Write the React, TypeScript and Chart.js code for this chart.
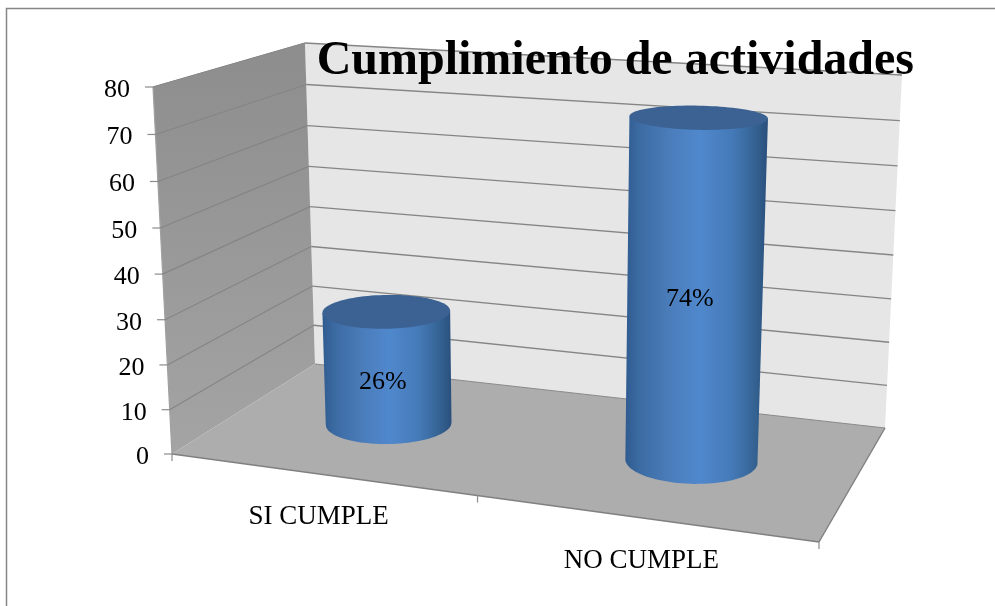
import React, { useEffect, useRef } from "react";
import { Chart, registerables } from "chart.js";

Chart.register(...registerables);

const categories = ["SI CUMPLE", "NO CUMPLE"];
const cumplimiento = [26, 74];
const valueLabels = ["26%", "74%"];
const labelHeightShare = [0.39, 0.485];
const axisMax = 80;
const axisStep = 10;
const chartTitle = "Cumplimiento de actividades";

const SERIF = "'Liberation Serif', 'Times New Roman', serif";

type Pt = [number, number];

// Corners of the 3D floor: u runs along the categories, d runs into the depth.
const floorCorners: Pt[] = [[172, 454], [819, 542], [885, 428], [315, 364]];
// Full axis height in pixels above each floor corner, same order.
const cornerHeights = [367, 410, 353, 321];
// Vanishing point of the vertical edges.
const verticalVanish: Pt = [541, 7585];
const barDepthCentre = 0.5;
const barDepthRadius = 0.2;
const heightWarp = 1.04;
const alongWarp = 0.024;

function homography(q: Pt[]) {
  const [[x0, y0], [x1, y1], [x2, y2], [x3, y3]] = q;
  const dx1 = x1 - x2, dx2 = x3 - x2, sx = x0 - x1 + x2 - x3;
  const dy1 = y1 - y2, dy2 = y3 - y2, sy = y0 - y1 + y2 - y3;
  const den = dx1 * dy2 - dx2 * dy1;
  const g = (sx * dy2 - dx2 * sy) / den;
  const h = (dx1 * sy - sx * dy1) / den;
  const a = x1 - x0 + g * x1, b = x3 - x0 + h * x3;
  const d = y1 - y0 + g * y1, e = y3 - y0 + h * y3;
  return (u: number, v: number): Pt => {
    const w = g * u + h * v + 1;
    return [(a * u + b * v + x0) / w, (d * u + e * v + y0) / w];
  };
}

const floorMap = homography(floorCorners);

function project(uRaw: number, d: number, share: number): Pt {
  const u = uRaw + alongWarp * uRaw * (1 - uRaw);
  const f = floorMap(u, d);
  const [h0, h1, h2, h3] = cornerHeights;
  const full = (1 - d) * ((1 - u) * h0 + u * h1) + d * ((1 - u) * h3 + u * h2);
  const t = share / (share + (1 - share) * heightWarp);
  const rise = full * t;
  const lean = (f[0] - verticalVanish[0]) / (verticalVanish[1] - f[1]);
  return [f[0] + lean * rise, f[1] - rise];
}

function poly(ctx: CanvasRenderingContext2D, pts: Pt[]) {
  ctx.beginPath();
  pts.forEach((p, i) => (i ? ctx.lineTo(p[0], p[1]) : ctx.moveTo(p[0], p[1])));
  ctx.closePath();
}

function seg(ctx: CanvasRenderingContext2D, a: Pt, b: Pt, color: string, width: number) {
  ctx.beginPath();
  ctx.moveTo(a[0], a[1]);
  ctx.lineTo(b[0], b[1]);
  ctx.strokeStyle = color;
  ctx.lineWidth = width;
  ctx.stroke();
}

function shareOf(chart: any, value: number) {
  const s = chart.scales.y;
  return (s.getPixelForValue(0) - s.getPixelForValue(value)) / (s.getPixelForValue(0) - s.getPixelForValue(axisMax));
}

function uOf(chart: any, x: number) {
  const a = chart.chartArea;
  return (x - a.left) / (a.right - a.left);
}

const box3d = {
  id: "box3d",
  beforeDraw(chart: any) {
    const ctx: CanvasRenderingContext2D = chart.ctx;
    ctx.save();
    ctx.fillStyle = "#ffffff";
    ctx.fillRect(0, 0, chart.width, chart.height);

    // frame of the picture
    ctx.beginPath();
    ctx.moveTo(6.5, chart.height);
    ctx.lineTo(6.5, 8.5);
    ctx.lineTo(chart.width, 8.5);
    ctx.strokeStyle = "#868686";
    ctx.lineWidth = 1.5;
    ctx.stroke();

    // back wall
    poly(ctx, [project(0, 1, 0), project(1, 1, 0), project(1, 1, 1), project(0, 1, 1)]);
    ctx.fillStyle = "#e6e6e6";
    ctx.fill();

    // side wall
    poly(ctx, [project(0, 0, 0), project(0, 1, 0), project(0, 1, 1), project(0, 0, 1)]);
    const wall = ctx.createLinearGradient(0, 60, 0, 454);
    wall.addColorStop(0, "#8e8e8e");
    wall.addColorStop(1, "#a4a4a4");
    ctx.fillStyle = wall;
    ctx.fill();
    seg(ctx, project(0, 0, 1), project(0, 1, 1), "#a0a0a0", 1);
    seg(ctx, project(0, 0, 0), project(0, 0, 1), "#a0a0a0", 1.2);

    // floor
    poly(ctx, [project(0, 0, 0), project(1, 0, 0), project(1, 1, 0), project(0, 1, 0)]);
    ctx.fillStyle = "#adadad";
    ctx.fill();

    // gridlines and value ticks from the linear scale
    const yScale = chart.scales.y;
    yScale.ticks.forEach((tick: any) => {
      const s = shareOf(chart, tick.value);
      const front = project(0, 0, s);
      const back = project(0, 1, s);
      const right = project(1, 1, s);
      if (tick.value > 0) {
        seg(ctx, front, back, "#858585", 1.2);
        seg(ctx, back, right, "#858585", 1.4);
      } else {
        seg(ctx, back, right, "#8a8a8a", 1.2);
      }
      seg(ctx, [front[0] - 8, front[1]], front, "#8c8c8c", 1.2);
      ctx.fillStyle = "#000000";
      ctx.font = `26px ${SERIF}`;
      ctx.textAlign = "right";
      ctx.textBaseline = "middle";
      ctx.fillText(String(tick.value), front[0] - 23, front[1] + 3);
    });

    // floor edges and category ticks
    seg(ctx, project(0, 0, 0), project(1, 0, 0), "#808080", 1.4);
    seg(ctx, project(1, 0, 0), project(1, 1, 0), "#808080", 1.4);
    [0, 0.5, 1].forEach((u) => {
      const p = project(u, 0, 0);
      seg(ctx, p, [p[0], p[1] + 7], "#8c8c8c", 1.2);
    });

    // category labels from the category scale
    const xScale = chart.scales.x;
    ctx.fillStyle = "#000000";
    ctx.font = `27px ${SERIF}`;
    ctx.textAlign = "center";
    ctx.textBaseline = "middle";
    categories.forEach((_, i) => {
      const p = project(uOf(chart, xScale.getPixelForValue(i)), 0, 0);
      ctx.fillText(xScale.getLabelForValue(i), p[0] - 2, p[1] + 43);
    });
    ctx.restore();
  },
  beforeDatasetDraw(chart: any, args: any) {
    const ctx: CanvasRenderingContext2D = chart.ctx;
    const a = chart.chartArea;
    ctx.save();
    args.meta.data.forEach((bar: any) => {
      const cu = uOf(chart, bar.x);
      const ru = bar.width / 2 / (a.right - a.left);
      const s = shareOf(chart, chart.scales.y.getValueForPixel(bar.y));
      const ring = (level: number) => {
        const pts: Pt[] = [];
        for (let k = 0; k < 96; k++) {
          const t = (k / 96) * Math.PI * 2;
          pts.push(project(cu + ru * Math.cos(t), barDepthCentre + barDepthRadius * Math.sin(t), level));
        }
        return pts;
      };
      const bottom = ring(0);
      const top = ring(s);
      const extreme = (pts: Pt[], sign: number) =>
        pts.reduce((best, p) => (sign * p[0] > sign * best[0] ? p : best), pts[0]);
      const tl = extreme(top, -1), tr = extreme(top, 1), bl = extreme(bottom, -1), br = extreme(bottom, 1);
      const front = bottom.filter((p) => p[1] >= (bl[1] + br[1]) / 2).sort((p, q) => p[0] - q[0]);

      poly(ctx, [tl, bl, ...front, br, tr]);
      const minX = Math.min(tl[0], bl[0]);
      const maxX = Math.max(tr[0], br[0]);
      const body = ctx.createLinearGradient(minX, 0, maxX, 0);
      body.addColorStop(0, "#2f5b8f");
      body.addColorStop(0.1, "#3c6ba3");
      body.addColorStop(0.3, "#4a7cb9");
      body.addColorStop(0.52, "#5088cd");
      body.addColorStop(0.75, "#457ab8");
      body.addColorStop(0.92, "#33608f");
      body.addColorStop(1, "#2a4f7c");
      ctx.fillStyle = body;
      ctx.fill();

      poly(ctx, top);
      ctx.fillStyle = "#3b6292";
      ctx.fill();
    });
    ctx.restore();
    return false;
  },
  afterDatasetsDraw(chart: any) {
    const ctx: CanvasRenderingContext2D = chart.ctx;
    ctx.save();
    ctx.fillStyle = "#000000";
    ctx.font = `26px ${SERIF}`;
    ctx.textAlign = "center";
    ctx.textBaseline = "middle";
    chart.getDatasetMeta(0).data.forEach((bar: any, i: number) => {
      const s = shareOf(chart, chart.scales.y.getValueForPixel(bar.y)) * labelHeightShare[i];
      const p = project(uOf(chart, bar.x), barDepthCentre, s);
      ctx.fillText(valueLabels[i], p[0] - 5, p[1] + 2);
    });
    ctx.restore();
  },
};

export default function App() {
  const ref = useRef<HTMLCanvasElement>(null);
  useEffect(() => {
    const chart = new Chart(ref.current!, {
      type: "bar",
      data: {
        labels: categories,
        datasets: [{ data: cumplimiento, backgroundColor: "#4f81bd", barPercentage: 0.4, categoryPercentage: 1 }],
      },
      options: {
        responsive: false,
        animation: false,
        layout: { padding: { left: 153, right: 81, top: 0, bottom: 152 } },
        scales: {
          x: { display: false, offset: true },
          y: { display: false, min: 0, max: axisMax, ticks: { stepSize: axisStep } },
        },
        plugins: {
          legend: { display: false },
          tooltip: { enabled: false },
          title: {
            display: true,
            text: chartTitle,
            align: "end",
            color: "#000000",
            font: { family: SERIF, size: 48, weight: "bold", lineHeight: 1 },
            padding: { top: 38, bottom: 1 },
          },
        },
      },
      plugins: [box3d],
    } as any);
    return () => chart.destroy();
  }, []);
  return (
    <canvas
      ref={ref}
      width={995}
      height={606}
      style={{ position: "fixed", left: 0, top: 0, display: "block", width: 995, height: 606 }}
    />
  );
}
